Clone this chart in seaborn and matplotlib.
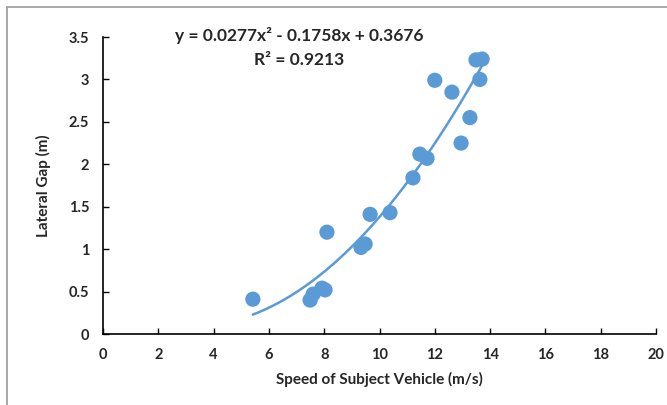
import numpy as np
import pandas as pd
import seaborn as sns
import matplotlib
matplotlib.use("Agg")
import matplotlib.pyplot as plt
from matplotlib.patches import Rectangle

speed = [5.42, 7.49, 7.60, 7.92, 8.03, 8.10, 9.33, 9.48, 9.66, 10.38,
         11.21, 11.46, 11.72, 12.00, 12.62, 12.95, 13.27, 13.49, 13.63, 13.71]
gap = [0.41, 0.40, 0.47, 0.54, 0.52, 1.20, 1.02, 1.06, 1.41, 1.43,
       1.84, 2.12, 2.07, 2.99, 2.85, 2.25, 2.55, 3.23, 3.00, 3.24]
coef = [0.0277, -0.1758, 0.3676]
x_ticks = [0, 2, 4, 6, 8, 10, 12, 14, 16, 18, 20]
y_ticks = [0, 0.5, 1, 1.5, 2, 2.5, 3, 3.5]
y_tick_labels = ["0", "0.5", "1", "1.5", "2", "2.5", "3", "3.5"]

sns.set_theme(style="white")
plt.rcParams['font.family'] = ['Lato', 'DejaVu Sans']

df = pd.DataFrame({"speed": speed, "gap": gap})
color = "#5B9BD5"

fig = plt.figure(figsize=(6.67, 4.05), dpi=100)
ax = fig.add_axes([103/667, 1-334/405, (656-103)/667, (334-37)/405])

xs = np.linspace(min(speed), max(speed), 200)
trend = pd.DataFrame({"x": xs, "y": np.polyval(coef, xs)})
sns.lineplot(data=trend, x="x", y="y", ax=ax, color=color, linewidth=1.8)
sns.scatterplot(data=df, x="speed", y="gap", ax=ax, color=color, s=120,
                edgecolor="none", zorder=3)

ax.set_xlim(0, 20)
ax.set_ylim(0, 3.5)
ax.set_xticks(x_ticks)
ax.set_xticklabels([str(t) for t in x_ticks], fontweight="bold", fontsize=10.5)
ax.set_yticks(y_ticks)
ax.set_yticklabels(y_tick_labels, fontweight="bold", fontsize=10.5)
ax.tick_params(direction="in", length=4, width=1, color="black",
               bottom=True, left=True, pad=10)
for s in ["top", "right"]:
    ax.spines[s].set_visible(False)
for s in ["bottom", "left"]:
    ax.spines[s].set_color("black")
    ax.spines[s].set_linewidth(1.2)
ax.set_xlabel("Speed of Subject Vehicle (m/s)", fontweight="bold", fontsize=11, labelpad=7)
ax.set_ylabel("Lateral Gap (m)", fontweight="bold", fontsize=11, labelpad=13)

fig.text(299/667, 1-36/405, "y = 0.0277x² - 0.1758x + 0.3676", ha="center", va="center",
         fontweight="bold", fontsize=12.5)
fig.text(299/667, 1-60/405, "R² = 0.9213", ha="center", va="center",
         fontweight="bold", fontsize=12.5)

fig.patches.append(Rectangle((7/667, -0.01), 1.0, 1 - 7/405 + 0.01, transform=fig.transFigure,
                             fill=False, edgecolor="#9a9a9a", linewidth=1.2))

fig.savefig("out.png", dpi=100)
